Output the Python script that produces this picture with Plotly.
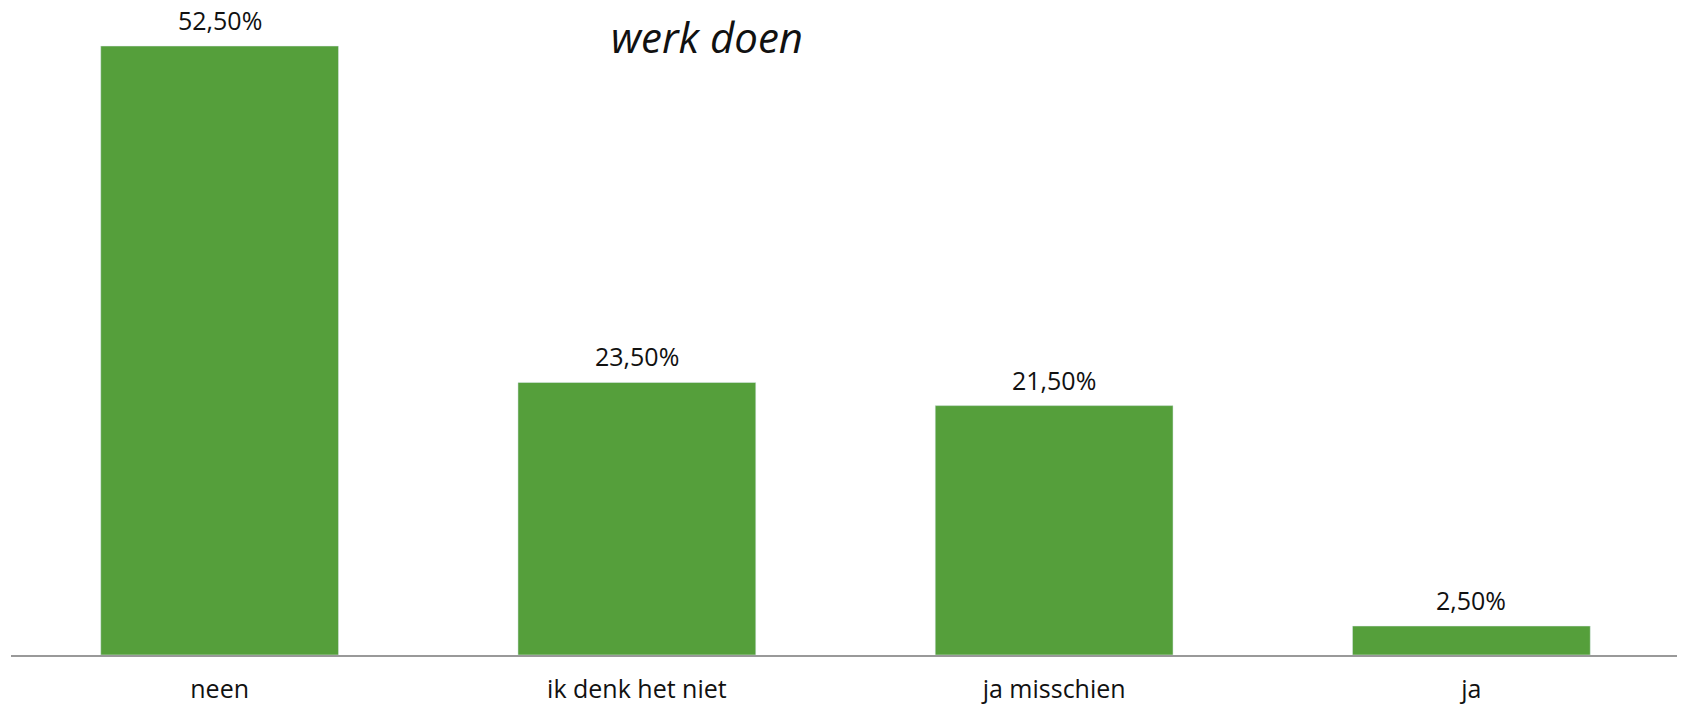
import plotly.graph_objects as go

categories = ["neen", "ik denk het niet", "ja misschien", "ja"]
values = [52.5, 23.5, 21.5, 2.5]
labels = ["52,50%", "23,50%", "21,50%", "2,50%"]

bar_color = "#559F3B"
font_family = "Open Sans, sans-serif"

fig = go.Figure()
fig.add_trace(go.Bar(
    x=categories, y=values, marker_color=bar_color, width=0.57,
    hoverinfo="skip", showlegend=False,
))
for c, v, t in zip(categories, values, labels):
    fig.add_annotation(x=c, y=v, text=t, showarrow=False, yanchor="bottom",
                       yshift=7, font=dict(size=25, color="#111111", family=font_family))

fig.add_annotation(xref="paper", yref="paper", x=0.417, y=1.0, yshift=-19,
                   text="<i>werk doen</i>", showarrow=False, xanchor="center", yanchor="middle",
                   font=dict(size=42, color="#111111", family=font_family))

fig.update_layout(
    width=1685, height=704,
    margin=dict(l=3, r=13, t=9, b=57, autoexpand=False),
    paper_bgcolor="white", plot_bgcolor="white",
    bargap=0.43,
    xaxis=dict(showline=True, linecolor="#999999", linewidth=2, ticks="",
               tickfont=dict(size=25, color="#111111", family=font_family),
               ticklabelstandoff=11, showgrid=False, automargin=False),
    yaxis=dict(range=[0, 55], visible=False, showgrid=False, zeroline=False, automargin=False),
)
fig.write_html("out.html")
